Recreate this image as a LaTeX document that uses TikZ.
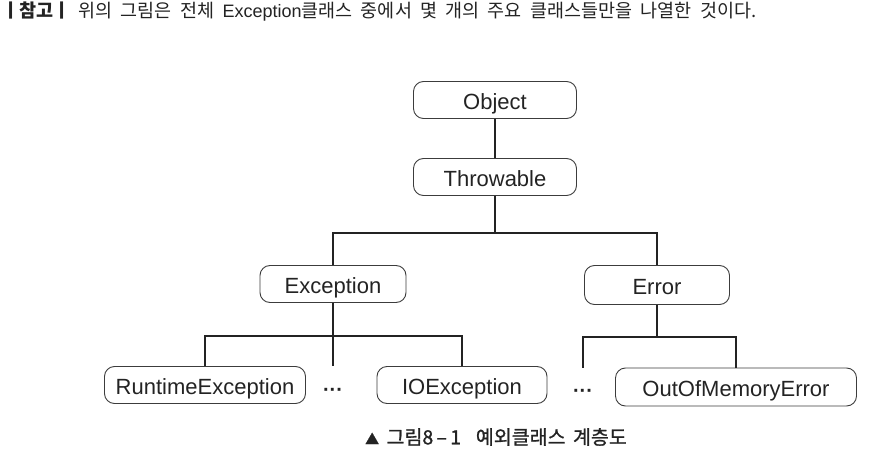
\documentclass[tikz,border=0pt]{standalone}
\usepackage{fontspec}
\setmainfont{Liberation Sans}
\newfontfamily\krfont[WordSpace=2.0]{Noto Sans CJK KR}
\newfontfamily\krcapfont[FakeBold=1.2,WordSpace=1.7]{Noto Sans CJK KR}
\usetikzlibrary{positioning}
\definecolor{boxgray}{RGB}{60,60,60}
\definecolor{inkblack}{RGB}{35,35,35}
\tikzset{
  classbox/.style={draw=boxgray, line width=0.9pt, rounded corners=10pt,
    inner sep=0pt, minimum height=37pt, text=inkblack,
    text height=20.5pt, text depth=1.5pt, font=\fontsize{22}{24}\selectfont},
  tree/.style={draw=inkblack, line width=1.7pt},
  dotsmark/.style={inner sep=0pt, text=inkblack, font=\bfseries\fontsize{20}{20}\selectfont},
}

\begin{document}
\begin{tikzpicture}[x=1pt,y=-1pt]
  \useasboundingbox (0,0) rectangle (880,457);

  % Note line
  \node[anchor=west, inner sep=0pt, text=inkblack,
    font=\fontsize{18}{20}\selectfont] (note) at (2,12)
    {{\krfont\fontsize{18.5}{20}\selectfont\textbf{ㅣ참고ㅣ} 위의 그림은 전체 }Exception{\krfont\fontsize{18.5}{20}\selectfont 클래스 중에서 몇 개의 주요 클래스들만을 나열한 것이다.}};

  % Top of the hierarchy
  \node[classbox, minimum width=163pt] (obj) at (495,100) {Object};
  \node[classbox, minimum width=163pt] (thr) at (495,177) {Throwable};

  % Second level
  \node[classbox, minimum width=146pt] (exc) at (333,284) {Exception};
  \node[classbox, minimum width=145pt, minimum height=39pt] (err) at (657,285) {Error};

  % Leaves
  \node[classbox, minimum width=201pt] (rte) at (205,385) {RuntimeException};
  \node[classbox, minimum width=170pt] (ioe) at (462,385) {IOException};
  \node[classbox, minimum width=241pt, minimum height=38pt] (oom) at (736,387) {OutOfMemoryError};
  \foreach \name/\x/\y in {dotsA/333/392, dotsB/583/393}
    \node[dotsmark] (\name) at (\x,\y) {···};

  % Connectors
  \draw[tree] (obj) -- (thr);
  \draw[tree] (thr.south) -- ++(0,37) coordinate (forkA);
  \draw[tree] (exc.north) |- (forkA) -| (err.north);
  \draw[tree] (exc.south) -- ++(0,33) coordinate (forkB) -- (exc.south |- rte.north);
  \draw[tree] (rte.north) |- (forkB) -| (ioe.north);
  \draw[tree] (err.south) -- ++(0,32) coordinate (forkC);
  \draw[tree] (oom.north) |- (forkC) -| (dotsB |- oom.north);

  % Caption
  \node[text=inkblack, font=\krcapfont\fontsize{19.5}{22}\selectfont] (caption) at (496,437)
    {{\fontsize{14}{14}\selectfont ▲} 그림8\,–\,1\ \ 예외클래스 계층도};
\end{tikzpicture}
\end{document}
